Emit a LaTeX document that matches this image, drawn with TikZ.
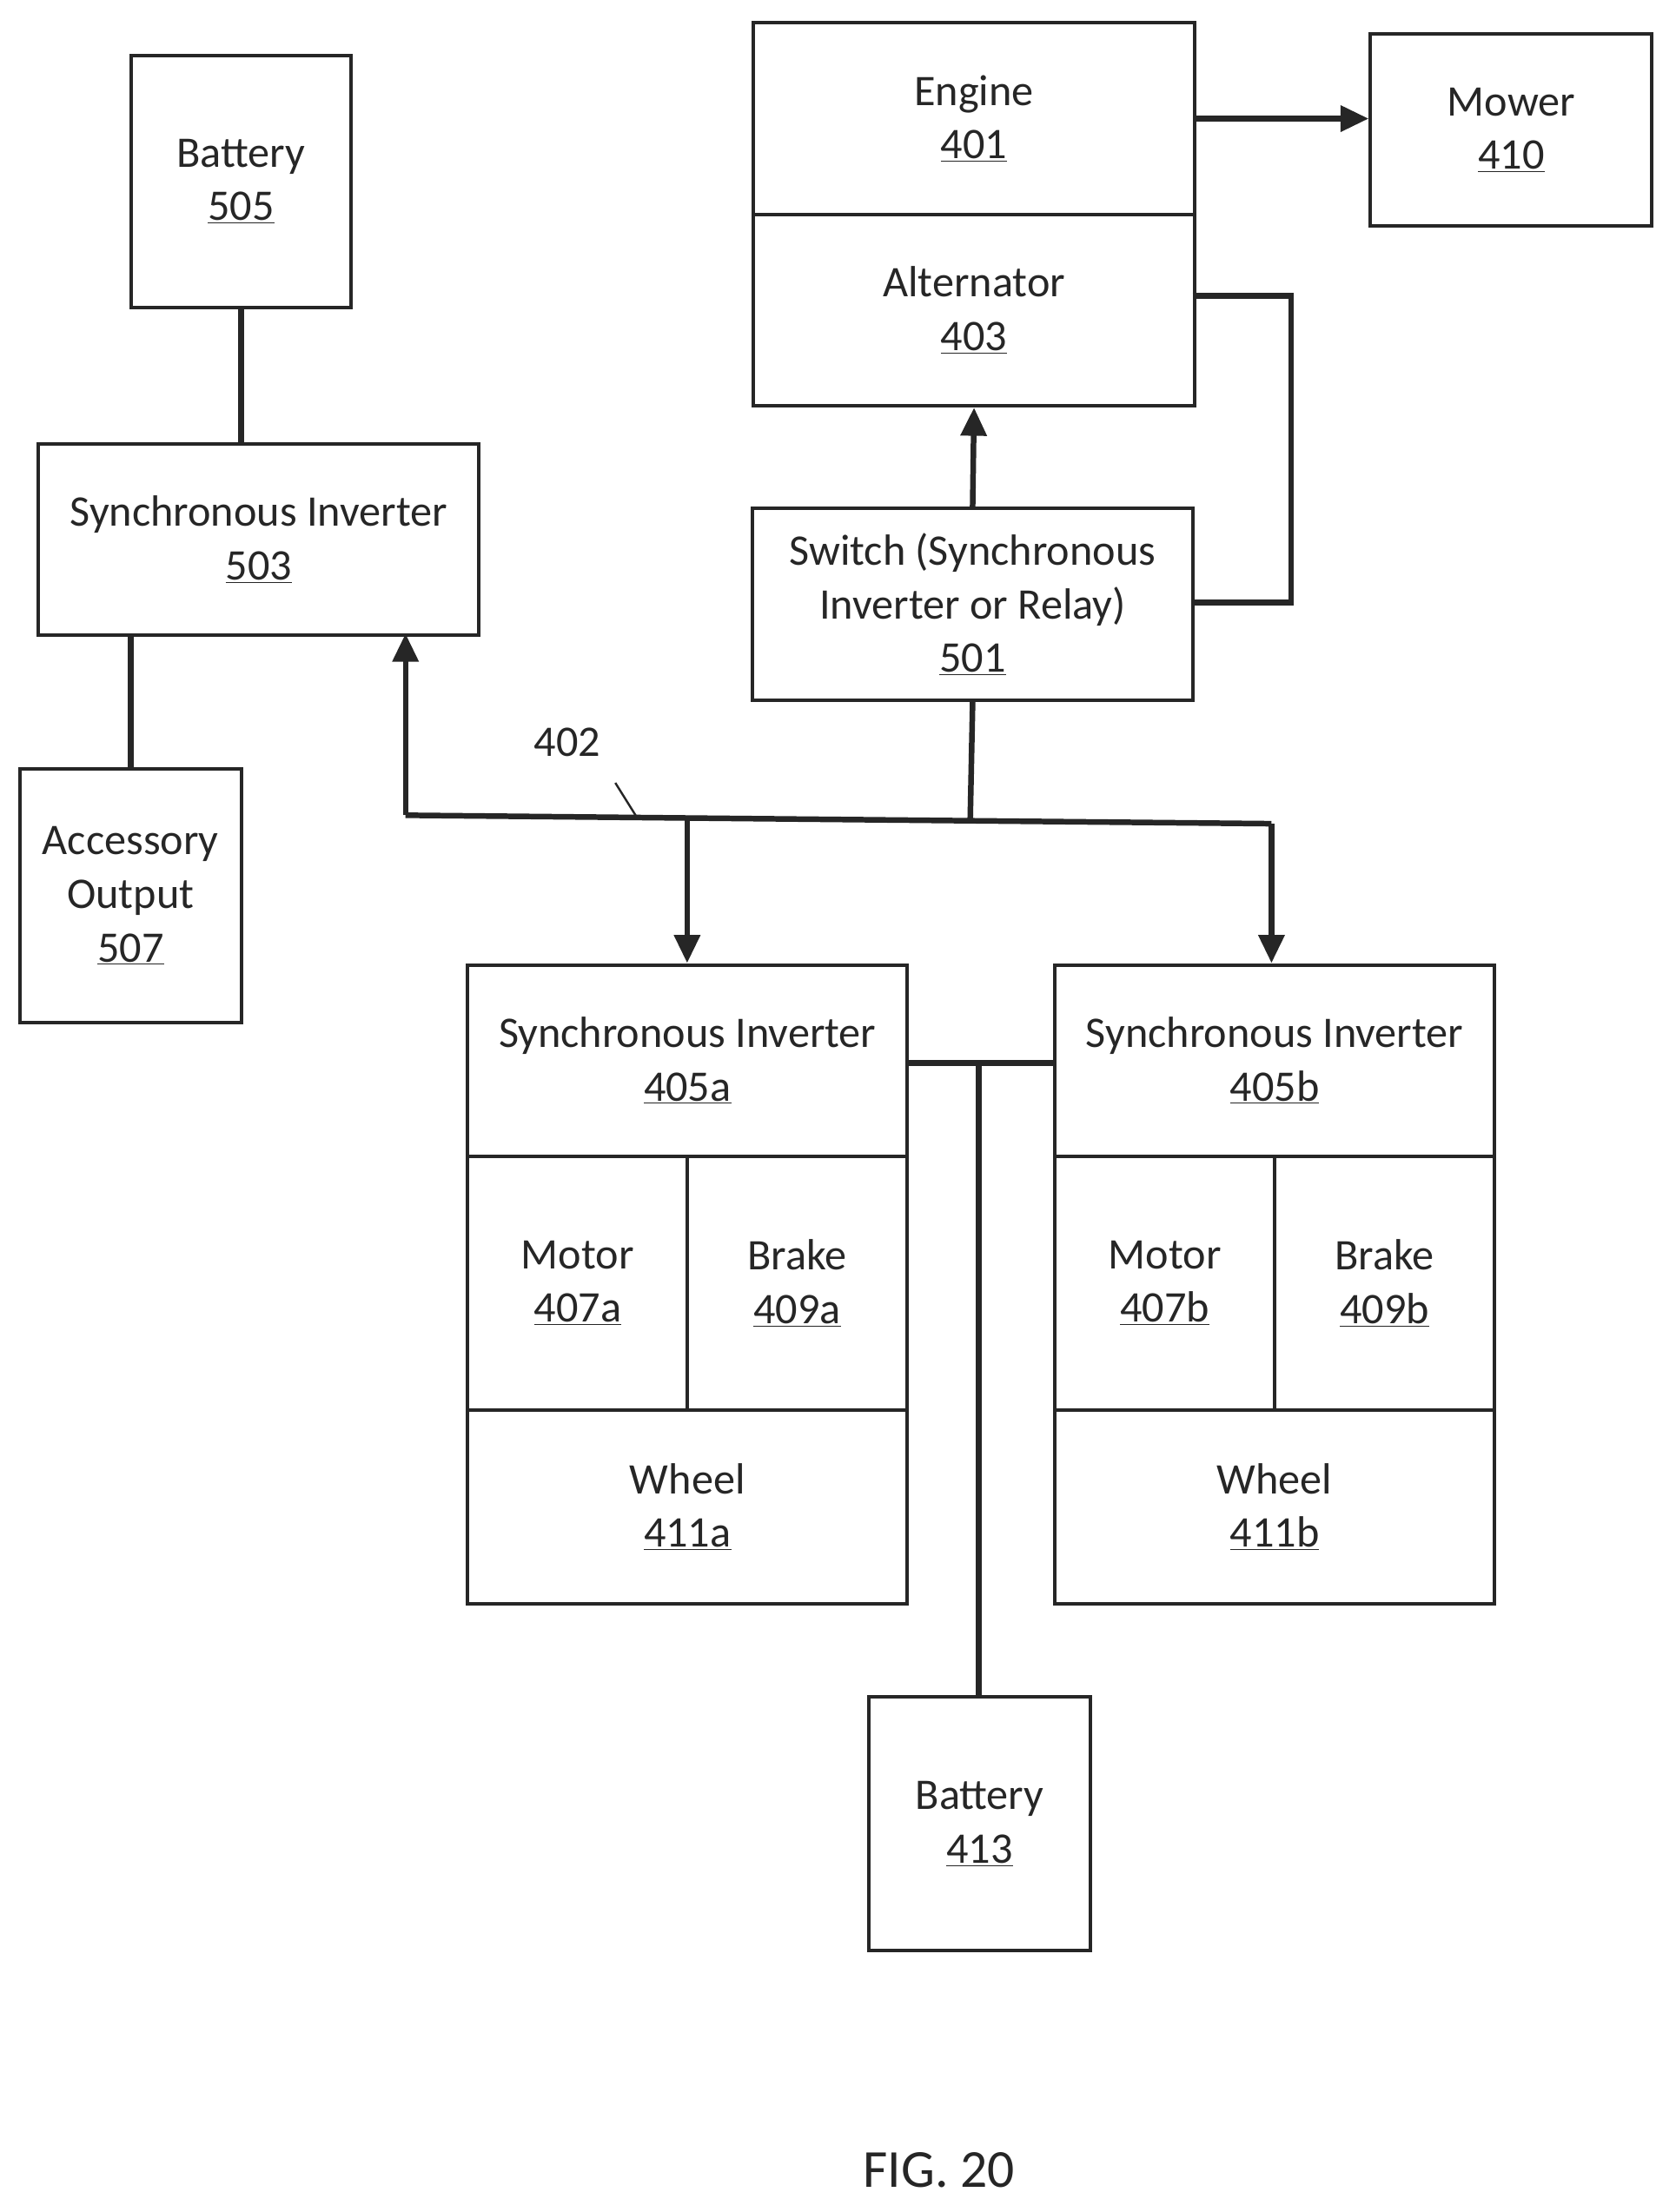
\documentclass[tikz,border=0pt]{standalone}
\usepackage{fontspec}
\setmainfont{Carlito}
\usetikzlibrary{arrows.meta}
\begin{document}
\begin{tikzpicture}[x=1pt,y=-1pt,every path/.style={color=black!85},every node/.style={text=black!85},
  box/.style={draw,line width=2.5pt,inner sep=0pt,align=center,font=\fontsize{31}{38}\selectfont},
  ln/.style={line width=4pt},
  ar/.style={line width=4pt,-{Triangle[length=20pt,width=18pt]}}]
\useasboundingbox (0,0) rectangle (1190,1571);
\newcommand{\bx}[6]{\node[box,minimum width=#4-#2,minimum height=#5-#3,anchor=north west] (#1) at (#2,#3) {#6};}
\bx{b505}{92}{38}{248}{217}{Battery\\\underline{505}}
\bx{s503}{26}{314}{339}{450}{Synchronous Inverter\\\underline{503}}
\bx{a507}{13}{545}{170}{725}{Accessory\\Output\\\underline{507}}
\bx{e401}{534}{15}{847}{151}{Engine\\\underline{401}}
\bx{a403}{534}{151}{847}{287}{Alternator\\\underline{403}}
\bx{m410}{972}{23}{1172}{159}{Mower\\\underline{410}}
\bx{s501}{533}{360}{846}{496}{Switch (Synchronous\\Inverter or Relay)\\\underline{501}}
\bx{i405a}{331}{684}{643}{820}{Synchronous Inverter\\\underline{405a}}
\bx{m407a}{331}{820}{487}{1000}{Motor\\\underline{407a}}
\bx{b409a}{487}{820}{643}{1000}{Brake\\\underline{409a}}
\bx{w411a}{331}{1000}{643}{1138}{Wheel\\\underline{411a}}
\bx{i405b}{748}{684}{1060}{820}{Synchronous Inverter\\\underline{405b}}
\bx{m407b}{748}{820}{904}{1000}{Motor\\\underline{407b}}
\bx{b409b}{904}{820}{1060}{1000}{Brake\\\underline{409b}}
\bx{w411b}{748}{1000}{1060}{1138}{Wheel\\\underline{411b}}
\bx{b413}{616}{1204}{773}{1384}{Battery\\\underline{413}}
\node[font=\fontsize{38}{44}\selectfont] (fig) at (667,1541) {FIG. 20};
\node[font=\fontsize{31}{34}\selectfont] (l402) at (403,527) {402};
\coordinate (bl) at (288,579);
\coordinate (br) at (903,585);
\coordinate (bj) at (689,584);
\coordinate (bA) at (488,582);
\draw[ln] (b505.south) -- (s503.north -| b505.south);
\draw[ln] (s503.south -| a507.north) -- (a507.north);
\draw[ar] (e401.east) -- (m410.west |- e401.east);
\draw[ln] (847,210) -- (917,210) -- (917,428) -- (846,428);
\draw[ar] (s501.north) -- (a403.south);
\draw[ln] (s501.south) -- (bj);
\draw[ln] (bl) -- (br);
\draw[ar] (bl) -- (288,450);
\draw[ar] (bA) -- (488,684);
\draw[ar] (br) -- (903,684);
\draw[line width=1.5pt] (437,556) -- (452,580);
\coordinate (mj) at (695,755);
\draw[ln] (643,755) -- (748,755);
\draw[ln] (mj) -- (b413.north -| mj);
\end{tikzpicture}
\end{document}
